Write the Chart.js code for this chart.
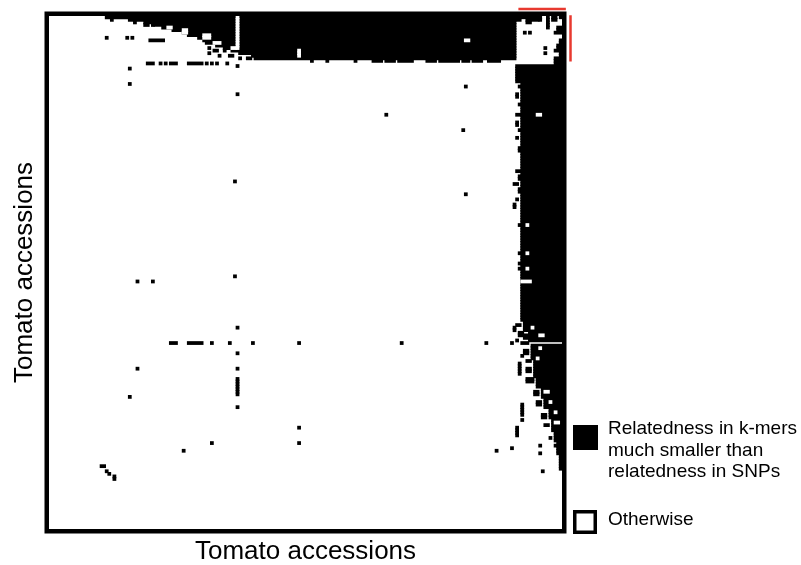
<!DOCTYPE html>
<html>
<head>
<meta charset="utf-8">
<script src="https://cdn.jsdelivr.net/npm/chart.js@4.4.0/dist/chart.umd.min.js"></script>
<style>
  html, body { margin: 0; padding: 0; background: #fff; }
  #wrap { width: 801px; height: 565px; }
</style>
</head>
<body>
<div id="wrap"><canvas id="matrix" width="801" height="565"></canvas></div>
<script>
// accessions on each axis (rows top to bottom, columns left to right)
const N = 200;
const axisTitle = 'Tomato accessions';
const legendLabels = [
    ['Relatedness in k-mers', 'much smaller than', 'relatedness in SNPs'],
    ['Otherwise']
];
const legendColors = ['#000000', '#ffffff'];

// top band: first black column of rows 0..16, the band runs to column 181
const topBandStart = [22, 33, 37, 41, 44, 48, 52, 54, 58, 60, 61, 65, 68, 71, 74, 79, 80];
const topBandEnd = 181;

// right band: [firstRow, lastRow, firstCol], black up to the last column
const rightBand = [
    [19, 25, 182], [26, 118, 184], [119, 122, 185], [123, 126, 187],
    [128, 133, 188], [134, 140, 189], [141, 144, 190], [145, 148, 192],
    [149, 152, 193], [153, 156, 195], [157, 161, 196], [162, 165, 197],
    [166, 170, 198], [171, 176, 199]
];

// other black cells: [rowFrom, rowTo, colFrom, colTo]
const blackCells = [
    // ragged edge of the top band
    [1, 1, 24, 24], [1, 1, 31, 32], [2, 2, 33, 33], [3, 3, 37, 38], [3, 3, 40, 40],
    [8, 8, 22, 22], [8, 8, 30, 30], [8, 8, 32, 32], [9, 9, 39, 44],
    [12, 12, 62, 62], [13, 13, 64, 65], [13, 13, 68, 68], [14, 14, 62, 62],
    [15, 15, 66, 66], [15, 15, 70, 71], [16, 16, 74, 74], [16, 16, 77, 78],
    [17, 17, 102, 102], [17, 17, 108, 108], [17, 17, 119, 119], [17, 17, 126, 129],
    [17, 17, 131, 134], [17, 17, 136, 141], [17, 17, 147, 150], [17, 17, 152, 159],
    [17, 17, 161, 163], [17, 17, 165, 168], [17, 17, 171, 175],
    [18, 18, 38, 40], [18, 18, 43, 43], [18, 18, 45, 45], [18, 18, 47, 49],
    [18, 18, 54, 59], [18, 18, 61, 61], [18, 18, 63, 63], [18, 18, 65, 65], [18, 18, 69, 69],
    // top-right block
    [0, 1, 182, 183], [0, 0, 184, 185], [0, 2, 186, 187], [0, 1, 188, 190],
    [0, 1, 191, 191], [0, 4, 194, 194], [0, 1, 196, 197], [0, 0, 199, 199],
    [4, 5, 198, 199], [6, 6, 197, 199], [9, 10, 199, 199], [11, 12, 198, 199],
    [13, 13, 197, 199], [14, 15, 199, 199], [16, 18, 197, 199],
    [6, 6, 185, 185], [6, 6, 187, 187], [12, 12, 193, 193], [14, 14, 193, 193],
    // isolated cells in the white area
    [19, 19, 73, 73], [20, 20, 31, 31], [26, 26, 31, 31], [30, 30, 73, 73],
    [27, 27, 162, 162], [38, 38, 131, 131], [44, 44, 161, 161], [64, 64, 72, 72],
    [69, 69, 162, 162], [101, 101, 72, 72], [103, 103, 34, 34], [103, 103, 40, 40],
    [121, 121, 73, 73], [127, 127, 47, 49], [127, 127, 54, 59], [127, 127, 63, 63],
    [127, 127, 70, 70], [127, 127, 79, 79], [127, 127, 97, 97], [127, 127, 137, 137],
    [127, 127, 170, 170], [131, 131, 73, 73], [137, 137, 73, 73], [137, 137, 34, 34],
    [141, 147, 73, 73], [148, 148, 31, 31], [152, 152, 73, 73], [160, 160, 97, 97],
    [166, 166, 97, 97], [166, 166, 63, 63], [169, 169, 52, 52], [169, 169, 174, 174],
    [175, 175, 20, 21], [177, 177, 22, 22], [178, 178, 23, 23], [179, 180, 25, 25],
    // left edge of the right band
    [27, 27, 183, 183], [30, 31, 182, 182], [34, 34, 183, 183], [38, 38, 182, 183],
    [41, 42, 182, 182], [44, 44, 183, 183], [47, 47, 182, 182], [51, 52, 183, 183],
    [60, 60, 182, 183], [62, 63, 183, 183], [65, 65, 181, 182], [67, 68, 183, 183],
    [71, 71, 182, 182], [73, 74, 181, 181], [81, 81, 183, 183], [92, 92, 183, 183],
    [96, 96, 183, 183], [98, 98, 183, 183],
    [120, 120, 182, 183], [121, 122, 181, 181], [123, 124, 183, 184], [124, 125, 185, 186],
    [126, 126, 182, 182], [127, 127, 180, 180], [127, 127, 184, 186], [130, 131, 185, 186],
    [132, 132, 184, 184], [134, 134, 186, 187], [135, 139, 183, 183], [137, 138, 186, 187],
    [141, 142, 186, 188], [146, 147, 189, 190], [150, 151, 190, 191], [151, 155, 184, 184],
    [155, 156, 192, 193], [157, 157, 184, 184], [159, 159, 193, 194], [160, 163, 182, 182],
    [164, 164, 195, 195], [167, 167, 191, 191], [168, 168, 180, 180], [170, 170, 191, 191],
    [167, 167, 197, 197], [177, 177, 192, 192]
];

// white cells inside the black areas: [rowFrom, rowTo, colFrom, colTo]
const whiteCells = [
    [0, 12, 73, 73], [13, 15, 97, 97], [9, 9, 162, 163],
    [4, 4, 46, 47], [5, 6, 52, 53], [7, 8, 60, 62], [10, 10, 64, 66], [12, 12, 71, 72],
    [38, 38, 190, 191], [81, 81, 186, 186], [92, 92, 186, 186], [98, 98, 186, 186],
    [103, 103, 184, 187], [121, 121, 188, 188], [124, 124, 191, 192], [129, 129, 191, 191],
    [133, 133, 190, 190], [146, 146, 193, 194], [150, 150, 195, 195], [154, 154, 197, 197],
    [158, 158, 197, 198]
];

// red marks beside the top-right block
const markCols = [183, 201.5];
const markRows = [-0.8, 17.2];

const FONT = '"Liberation Sans", Arial, sans-serif';

// rectangles -> one floating bar per row
function cellsToBars(cells) {
    const bars = [];
    cells.forEach(([r0, r1, c0, c1]) => {
        for (let r = r0; r <= r1; r++) {
            bars.push({ y: r, x: [c0, c1 + 1] });
        }
    });
    return bars;
}

const blackBars = [];
topBandStart.forEach((c, r) => blackBars.push({ y: r, x: [c, topBandEnd + 1] }));
rightBand.forEach(([r0, r1, c]) => {
    for (let r = r0; r <= r1; r++) {
        blackBars.push({ y: r, x: [c, N] });
    }
});
blackBars.push(...cellsToBars(blackCells));
const whiteBars = cellsToBars(whiteCells);

// frame, red marks and legend
const decorations = {
    id: 'decorations',
    afterDatasetsDraw(chart) {
        const { ctx, chartArea: a, scales: { x, y } } = chart;
        ctx.save();

        ctx.strokeStyle = '#000';
        ctx.lineWidth = 4.5;
        ctx.strokeRect(a.left - 2.25, a.top - 2.25, a.width + 4.5, a.height + 4.5);

        ctx.strokeStyle = '#e8392f';
        ctx.lineWidth = 2.5;
        ctx.beginPath();
        ctx.moveTo(x.getPixelForValue(markCols[0]), a.top - 7);
        ctx.lineTo(x.getPixelForValue(markCols[1]), a.top - 7);
        ctx.moveTo(a.right + 8.5, y.getPixelForValue(markRows[0]));
        ctx.lineTo(a.right + 8.5, y.getPixelForValue(markRows[1]));
        ctx.stroke();

        // legend
        const boxX = 573;
        const boxTops = [425, 510];
        ctx.font = '19px ' + FONT;
        ctx.textBaseline = 'alphabetic';
        legendLabels.forEach((lines, i) => {
            const top = boxTops[i];
            ctx.fillStyle = legendColors[i];
            if (legendColors[i] === '#000000') {
                ctx.fillRect(boxX, top, 25, 25);
            } else {
                ctx.fillRect(boxX, top, 24, 24);
                ctx.strokeStyle = '#000';
                ctx.lineWidth = 3.5;
                ctx.strokeRect(boxX + 1.75, top + 1.75, 20.5, 20.5);
            }
            ctx.fillStyle = '#000';
            lines.forEach((t, j) => {
                ctx.fillText(t, 608, top + 9 + j * 21.7 + (lines.length === 1 ? 6 : 0));
            });
        });
        ctx.restore();
    }
};

const hidden = {
    grid: { display: false, drawTicks: false },
    ticks: { display: false },
    border: { display: false }
};

new Chart(document.getElementById('matrix'), {
    type: 'bar',
    data: {
        datasets: [
            {
                label: 'Otherwise',
                data: whiteBars,
                backgroundColor: '#ffffff',
                order: 0
            },
            {
                label: 'Relatedness in k-mers much smaller than relatedness in SNPs',
                data: blackBars,
                backgroundColor: '#000000',
                order: 1
            }
        ]
    },
    options: {
        indexAxis: 'y',
        responsive: false,
        animation: false,
        events: [],
        layout: { padding: { left: 12, top: 16, right: 239, bottom: 0 } },
        datasets: {
            bar: {
                grouped: false,
                categoryPercentage: 1,
                barPercentage: 1,
                borderWidth: 0,
                inflateAmount: 0.6
            }
        },
        plugins: {
            legend: { display: false },
            tooltip: { enabled: false }
        },
        scales: {
            x: {
                type: 'linear',
                min: 0,
                max: N,
                offset: false,
                ...hidden,
                title: {
                    display: true,
                    text: axisTitle,
                    color: '#000',
                    font: { family: FONT, size: 26, lineHeight: 1 },
                    padding: { top: 10, bottom: 0 }
                }
            },
            y: {
                type: 'linear',
                min: -0.5,
                max: N - 0.5,
                reverse: true,
                offset: false,
                ...hidden,
                title: {
                    display: true,
                    text: axisTitle,
                    color: '#000',
                    font: { family: FONT, size: 26, lineHeight: 1 },
                    padding: { top: 0, bottom: 11 }
                }
            }
        }
    },
    plugins: [decorations]
});
</script>
</body>
</html>
